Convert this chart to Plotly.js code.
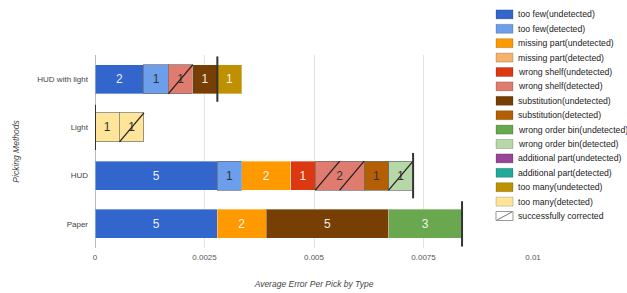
<!DOCTYPE html>
<html>
<head>
<meta charset="utf-8">
<script src="https://cdn.plot.ly/plotly-3.0.1.min.js"></script>
<style>html,body{margin:0;padding:0;background:#fff;}#chart{width:627px;height:293px;}</style>
</head>
<body>
<div id="chart"></div>
<script>
// ---- data ----
const categories = ['HUD with light', 'Light', 'HUD', 'Paper'];
const seriesNames = [
  'too few(undetected)', 'too few(detected)',
  'missing part(undetected)', 'missing part(detected)',
  'wrong shelf(undetected)', 'wrong shelf(detected)',
  'substitution(undetected)', 'substitution(detected)',
  'wrong order bin(undetected)', 'wrong order bin(detected)',
  'additional part(undetected)', 'additional part(detected)',
  'too many(undetected)', 'too many(detected)'
];
const seriesColors = [
  '#3366cc', '#6d9eeb', '#ff9900', '#f6b26b', '#dc3912', '#e07b6f',
  '#783f04', '#b45f06', '#6aa84f', '#b6d7a8', '#994499', '#22aa99',
  '#bf9000', '#ffe599'
];
// error counts per picking method (order of categories)
const tooFewUndetected          = [2, 0, 5, 5];
const tooFewDetected            = [1, 0, 1, 0];
const missingPartUndetected     = [0, 0, 2, 2];
const missingPartDetected       = [0, 0, 0, 0];
const wrongShelfUndetected      = [0, 0, 1, 0];
const wrongShelfDetected        = [1, 0, 2, 0];
const substitutionUndetected    = [1, 0, 0, 5];
const substitutionDetected      = [0, 0, 1, 0];
const wrongOrderBinUndetected   = [0, 0, 0, 3];
const wrongOrderBinDetected     = [0, 0, 1, 0];
const additionalPartUndetected  = [0, 0, 0, 0];
const additionalPartDetected    = [0, 0, 0, 0];
const tooManyUndetected         = [1, 0, 0, 0];
const tooManyDetected           = [0, 2, 0, 0];
// of which successfully corrected
const wrongShelfCorrected       = [1, 0, 2, 0];
const wrongOrderBinCorrected    = [0, 0, 1, 0];
const tooManyCorrected          = [0, 1, 0, 0];
// interval marker (in error counts)
const intervalCounts            = [5, 0, 13, 15];
const picksPerMethod = 1790;
const correctedLabel = 'successfully corrected';
const xTickVals = [0, 0.0025, 0.005, 0.0075, 0.01];
const xTickText = ['0', '0.0025', '0.005', '0.0075', '0.01'];

const seriesCounts = [
  tooFewUndetected, tooFewDetected, missingPartUndetected, missingPartDetected,
  wrongShelfUndetected, wrongShelfDetected, substitutionUndetected, substitutionDetected,
  wrongOrderBinUndetected, wrongOrderBinDetected, additionalPartUndetected, additionalPartDetected,
  tooManyUndetected, tooManyDetected
];
const seriesCorrected = {5: wrongShelfCorrected, 9: wrongOrderBinCorrected, 13: tooManyCorrected};

// ---- build ----
const FONT = 'Arial, "Liberation Sans", sans-serif';
const W = 627, H = 293;
const M = {l: 95, r: 94, t: 55, b: 45};
const PW = W - M.l - M.r, PH = H - M.t - M.b;
const px = v => (v - M.l) / PW;
const py = v => 1 - (v - M.t) / PH;

const traces = [];
const shapes = [];
const annotations = [];
const cum = categories.map(() => 0);
const BAR = 0.6;

function addSegment(counts, color, detected, corrected) {
  const xs = counts.map(c => c > 0 ? c / picksPerMethod : null);
  traces.push({
    type: 'bar', orientation: 'h', y: categories, x: xs,
    text: counts.map(c => c > 0 ? String(c) : ''),
    textposition: 'inside', insidetextanchor: 'middle', constraintext: 'none',
    textfont: {family: FONT, size: 12, color: detected ? '#333333' : 'rgba(255,255,255,0.92)'},
    marker: {color: color, line: {width: 1, color: detected ? 'rgba(110,110,110,0.7)' : 'rgba(255,255,255,0.35)'}},
    hoverinfo: 'skip', showlegend: false
  });
  counts.forEach((c, k) => {
    if (corrected) {
      for (let u = 0; u < c; u++) {
        const x0 = (cum[k] + u) / picksPerMethod, x1 = (cum[k] + u + 1) / picksPerMethod;
        shapes.push({type: 'line', xref: 'x', yref: 'y', x0: x0, x1: x1,
          y0: k + BAR / 2, y1: k - BAR / 2, line: {color: '#222', width: 1.3}});
      }
    }
    cum[k] += c;
  });
}

seriesCounts.forEach((counts, i) => {
  const detected = i % 2 === 1;
  const corr = seriesCorrected[i];
  if (corr) {
    addSegment(counts.map((c, k) => c - corr[k]), seriesColors[i], detected, false);
    addSegment(corr, seriesColors[i], detected, true);
  } else {
    addSegment(counts, seriesColors[i], detected, false);
  }
});

// interval markers (vertical sticks at the interval value)
intervalCounts.forEach((c, k) => {
  const xv = c / picksPerMethod;
  shapes.push({type: 'line', xref: 'x', yref: 'y', layer: 'above',
    x0: xv, x1: xv, y0: k - 0.47, y1: k + 0.47,
    line: {color: '#333', width: 2}});
});

// custom legend
const legendLabels = seriesNames.concat([correctedLabel]);
legendLabels.forEach((name, i) => {
  const cy = 14.4 + i * 14.4;
  const isCorr = i === seriesNames.length;
  shapes.push({type: 'rect', xref: 'paper', yref: 'paper',
    x0: px(496), x1: px(513), y0: py(cy + 4.5), y1: py(cy - 4.5),
    fillcolor: isCorr ? '#ffffff' : seriesColors[i],
    line: {width: 1, color: isCorr ? '#999' : 'rgba(0,0,0,0.18)'}});
  if (isCorr) {
    shapes.push({type: 'line', xref: 'paper', yref: 'paper',
      x0: px(497), x1: px(512), y0: py(cy + 4), y1: py(cy - 4),
      line: {width: 1, color: '#777'}});
  }
  annotations.push({xref: 'paper', yref: 'paper', x: px(516), y: py(cy),
    xanchor: 'left', yanchor: 'middle', showarrow: false, text: name,
    font: {family: FONT, size: 8.7, color: '#222'}});
});

const layout = {
  width: W, height: H,
  margin: M,
  paper_bgcolor: '#fff', plot_bgcolor: '#fff',
  barmode: 'stack', bargap: 1 - BAR,
  showlegend: false,
  font: {family: FONT, color: '#333'},
  xaxis: {
    range: [0, 0.01], tickvals: xTickVals, ticktext: xTickText,
    showgrid: true, gridcolor: '#e3e3e3', gridwidth: 1,
    zeroline: true, zerolinecolor: '#bbbbbb', zerolinewidth: 1,
    showline: false, ticks: '', tickfont: {family: FONT, size: 8, color: '#555'},
    ticklabelstandoff: 3, fixedrange: true,
    title: {text: 'Average Error Per Pick by Type', font: {family: FONT, size: 8.5, color: '#444', style: 'italic'}, standoff: 20}
  },
  yaxis: {
    type: 'category', autorange: 'reversed',
    showgrid: false, showline: false, ticks: '', zeroline: false,
    tickfont: {family: FONT, size: 8, color: '#444444'}, ticklabelstandoff: 6,
    title: {text: 'Picking Methods', font: {family: FONT, size: 8.5, color: '#444', style: 'italic'}, standoff: 16}
  },
  shapes: shapes,
  annotations: annotations
};

Plotly.newPlot('chart', traces, layout, {displayModeBar: false, staticPlot: true});
</script>
</body>
</html>
